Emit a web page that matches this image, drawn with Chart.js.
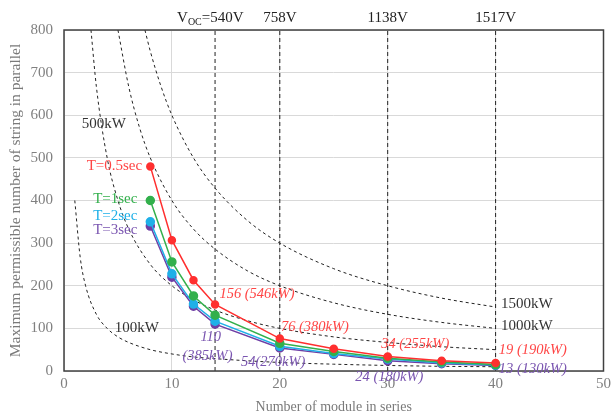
<!DOCTYPE html>
<html lang="en">
<head>
  <meta charset="UTF-8" />
  <title>Maximum permissible strings in parallel</title>
  <script src="https://cdn.jsdelivr.net/npm/chart.js"></script>
  <style>
    html, body { margin: 0; padding: 0; background: #fff; }
    #wrap { width: 615px; height: 416px; position: relative; }
  </style>
</head>
<body>
  <div id="wrap"><canvas id="chart"></canvas></div>

  <script>
    // modules in series (x) for the four fault-time series
    const modulesInSeries = [8, 10, 12, 14, 20, 25, 30, 35, 40];
    const strings05s = [480, 307, 213, 156, 76, 52, 34, 24, 19];
    const strings1s  = [400, 256, 176, 131, 65, 46, 30, 21, 15];
    const strings2s  = [350, 228, 157, 117, 58, 41, 28, 19, 14];
    const strings3s  = [340, 220, 152, 110, 54, 39, 24, 17, 13];

    // constant-power dashed curves
    const kw100X  = [1, 1.5, 2, 3, 4, 5, 6, 8, 10, 12, 14, 17, 20, 25, 30, 35, 40];
    const kw100Y  = [400, 267, 200, 133, 100, 80, 67, 50, 40, 33, 29, 24, 20, 16, 13, 11, 10];
    const kw500X  = [2.5, 3, 4, 5, 6, 8, 10, 12, 14, 17, 20, 25, 30, 35, 40];
    const kw500Y  = [800, 667, 500, 400, 333, 250, 200, 167, 143, 118, 100, 80, 67, 57, 50];
    const kw1000X = [5, 6, 7, 8, 10, 12, 14, 17, 20, 25, 30, 35, 40];
    const kw1000Y = [800, 667, 571, 500, 400, 333, 286, 235, 200, 160, 133, 114, 100];
    const kw1500X = [7.5, 8, 9, 10, 12, 14, 17, 20, 25, 30, 35, 40];
    const kw1500Y = [800, 750, 667, 600, 500, 429, 353, 300, 240, 200, 171, 150];

    // open-circuit voltage markers
    const vocX = [14, 20, 30, 40];
    const vocLabels = ['540V', '758V', '1138V', '1517V'];

    const xTicks = [0, 10, 20, 30, 40, 50];
    const yTicks = [0, 100, 200, 300, 400, 500, 600, 700, 800];

    const RED = '#ff2f2f', GREEN = '#33b04c', BLUE = '#1fb0e8', PURPLE = '#6f3fa5';
    const RED_TXT = '#ff4545', PURPLE_TXT = '#7a55b0';
    const SERIF = '"Liberation Serif", "DejaVu Serif", serif';

    const pts = (xs, ys) => xs.map((x, i) => ({ x: x, y: ys[i] }));

    function series(label, ys, color, r) {
      return {
        label: label, data: pts(modulesInSeries, ys), showLine: true,
        borderColor: color, backgroundColor: color, borderWidth: 1.5,
        pointRadius: r, pointHoverRadius: r, tension: 0
      };
    }
    function curve(label, xs, ys) {
      return {
        label: label, data: pts(xs, ys), showLine: true,
        borderColor: '#222', borderWidth: 1, borderDash: [3, 3],
        pointRadius: 0, cubicInterpolationMode: 'monotone'
      };
    }
    function vline(x) {
      return {
        label: 'v' + x, data: [{ x: x, y: 0 }, { x: x, y: 800 }], showLine: true,
        borderColor: '#222', borderWidth: 1, borderDash: [4, 3], pointRadius: 0
      };
    }

    const annotations = {
      id: 'annotations',
      afterDatasetsDraw(chart) {
        const { ctx, chartArea, scales: { x, y } } = chart;
        ctx.save();
        ctx.strokeStyle = '#404040';
        ctx.lineWidth = 1.5;
        ctx.strokeRect(chartArea.left, chartArea.top, chartArea.right - chartArea.left, chartArea.bottom - chartArea.top);

        function txt(s, dx, dy, color, style, align) {
          ctx.font = style;
          ctx.fillStyle = color;
          ctx.textAlign = align || 'left';
          ctx.textBaseline = 'middle';
          ctx.fillText(s, x.getPixelForValue(dx), y.getPixelForValue(dy));
        }
        const reg = '15px ' + SERIF;
        const ital = 'italic 14.5px ' + SERIF;

        // voltage labels above the plot
        ctx.fillStyle = '#222';
        ctx.textBaseline = 'middle';
        ctx.font = '15px ' + SERIF;
        ctx.textAlign = 'center';
        for (let i = 1; i < vocX.length; i++) {
          ctx.fillText(vocLabels[i], x.getPixelForValue(vocX[i]), 18);
        }
        let px = x.getPixelForValue(vocX[0]) - 38;
        ctx.textAlign = 'left';
        ctx.fillText('V', px, 18);
        px += ctx.measureText('V').width;
        ctx.font = '10px ' + SERIF;
        ctx.fillText('OC', px, 22);
        px += ctx.measureText('OC').width;
        ctx.font = '15px ' + SERIF;
        ctx.fillText('=' + vocLabels[0], px, 18);

        // power curve labels
        txt('500kW', 1.65, 580, '#333', reg);
        txt('100kW', 4.7, 101, '#333', reg);
        txt('1500kW', 40.5, 157, '#333', reg);
        txt('1000kW', 40.5, 106, '#333', reg);

        // series labels
        txt('T=0.5sec', 2.1, 481, RED_TXT, reg);
        txt('T=1sec', 2.7, 404, GREEN, reg);
        txt('T=2sec', 2.7, 363, BLUE, reg);
        txt('T=3sec', 2.7, 330, PURPLE_TXT, reg);

        // point values
        txt('156 (546kW)', 14.4, 180, RED_TXT, ital);
        txt('76 (380kW)', 20.1, 103, RED_TXT, ital);
        txt('34 (255kW)', 29.4, 63, RED_TXT, ital);
        txt('19 (190kW)', 40.3, 49, RED_TXT, ital);
        txt('110', 13.6, 80, PURPLE_TXT, ital, 'center');
        txt('(385kW)', 13.3, 35, PURPLE_TXT, ital, 'center');
        txt('54(270kW)', 16.4, 21, PURPLE_TXT, ital);
        txt('24 (180kW)', 27, -15, PURPLE_TXT, ital);
        txt('13 (130kW)', 40.3, 5, PURPLE_TXT, ital);
        ctx.restore();
      }
    };

    new Chart(document.getElementById('chart'), {
      type: 'scatter',
      data: {
        datasets: [
          series('T=0.5sec', strings05s, RED, 3.5),
          series('T=1sec', strings1s, GREEN, 4),
          series('T=2sec', strings2s, BLUE, 4),
          series('T=3sec', strings3s, PURPLE, 4),
          curve('100kW', kw100X, kw100Y),
          curve('500kW', kw500X, kw500Y),
          curve('1000kW', kw1000X, kw1000Y),
          curve('1500kW', kw1500X, kw1500Y),
          ...vocX.map(vline)
        ]
      },
      options: {
        responsive: true,
        maintainAspectRatio: false,
        animation: false,
        layout: { padding: { top: 30, right: 7, left: 0, bottom: 0 } },
        plugins: { legend: { display: false }, tooltip: { enabled: false } },
        scales: {
          x: {
            type: 'linear', min: 0, max: 50,
            afterBuildTicks: s => { s.ticks = xTicks.map(v => ({ value: v })); },
            afterFit: s => { s.height = 45; },
            grid: { color: '#d9d9d9', drawTicks: false },
            border: { display: false },
            ticks: { color: '#808080', padding: 4, font: { family: SERIF, size: 15 } },
            title: { display: true, text: 'Number of module in series', color: '#7a7a7a', padding: 0,
                     font: { family: SERIF, size: 14 } }
          },
          y: {
            type: 'linear', min: 0, max: 800,
            afterBuildTicks: s => { s.ticks = yTicks.map(v => ({ value: v })); },
            afterFit: s => { s.width = 64; },
            grid: { color: '#d9d9d9', drawTicks: false },
            border: { display: false },
            ticks: { color: '#808080', padding: 11, font: { family: SERIF, size: 15 } },
            title: { display: true, text: 'Maximum permissible number of string in parallel', color: '#7a7a7a',
                     padding: { top: 7, bottom: 0 }, font: { family: SERIF, size: 15.5 } }
          }
        }
      },
      plugins: [annotations]
    });
  </script>
</body>
</html>
